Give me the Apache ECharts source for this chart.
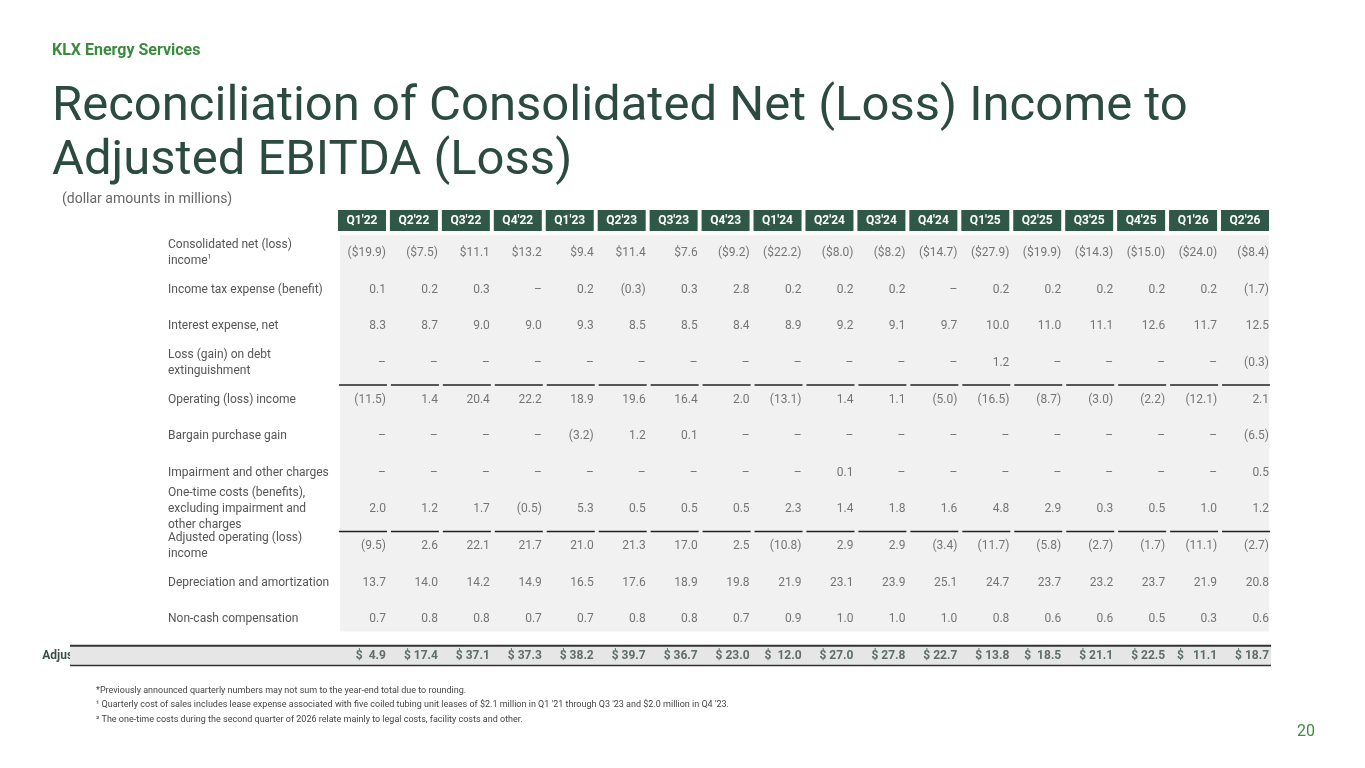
<!DOCTYPE html>
<html><head><meta charset="utf-8">
<script src="https://cdn.jsdelivr.net/npm/echarts@6/dist/echarts.min.js"></script>
<style>html,body{margin:0;padding:0;background:#fff}#c{width:1365px;height:768px}</style>
</head><body><div id="c"></div>
<script>
const quarters = ["Q1'22","Q2'22","Q3'22","Q4'22","Q1'23","Q2'23","Q3'23","Q4'23","Q1'24","Q2'24","Q3'24","Q4'24","Q1'25","Q2'25","Q3'25","Q4'25","Q1'26","Q2'26"];
const rowLabels = ["Consolidated net (loss) income{s|1}","Income tax expense (benefit)","Interest expense, net","Loss (gain) on debt extinguishment","Operating (loss) income","Bargain purchase gain","Impairment and other charges","One-time costs (benefits), excluding impairment and other charges","Adjusted operating (loss) income","Depreciation and amortization","Non-cash compensation","Adjusted EBITDA (loss)"];
const netIncome = ["($19.9)","($7.5)","$11.1","$13.2","$9.4","$11.4","$7.6","($9.2)","($22.2)","($8.0)","($8.2)","($14.7)","($27.9)","($19.9)","($14.3)","($15.0)","($24.0)","($8.4)"];
const incomeTax = ["0.1","0.2","0.3","–","0.2","(0.3)","0.3","2.8","0.2","0.2","0.2","–","0.2","0.2","0.2","0.2","0.2","(1.7)"];
const interest = ["8.3","8.7","9.0","9.0","9.3","8.5","8.5","8.4","8.9","9.2","9.1","9.7","10.0","11.0","11.1","12.6","11.7","12.5"];
const debtLoss = ["–","–","–","–","–","–","–","–","–","–","–","–","1.2","–","–","–","–","(0.3)"];
const operating = ["(11.5)","1.4","20.4","22.2","18.9","19.6","16.4","2.0","(13.1)","1.4","1.1","(5.0)","(16.5)","(8.7)","(3.0)","(2.2)","(12.1)","2.1"];
const bargain = ["–","–","–","–","(3.2)","1.2","0.1","–","–","–","–","–","–","–","–","–","–","(6.5)"];
const impairment = ["–","–","–","–","–","–","–","–","–","0.1","–","–","–","–","–","–","–","0.5"];
const oneTime = ["2.0","1.2","1.7","(0.5)","5.3","0.5","0.5","0.5","2.3","1.4","1.8","1.6","4.8","2.9","0.3","0.5","1.0","1.2"];
const adjOperating = ["(9.5)","2.6","22.1","21.7","21.0","21.3","17.0","2.5","(10.8)","2.9","2.9","(3.4)","(11.7)","(5.8)","(2.7)","(1.7)","(11.1)","(2.7)"];
const depreciation = ["13.7","14.0","14.2","14.9","16.5","17.6","18.9","19.8","21.9","23.1","23.9","25.1","24.7","23.7","23.2","23.7","21.9","20.8"];
const nonCash = ["0.7","0.8","0.8","0.7","0.7","0.8","0.8","0.7","0.9","1.0","1.0","1.0","0.8","0.6","0.6","0.5","0.3","0.6"];
const adjEbitda = ["$  4.9","$ 17.4","$ 37.1","$ 37.3","$ 38.2","$ 39.7","$ 36.7","$ 23.0","$  12.0","$ 27.0","$ 27.8","$ 22.7","$ 13.8","$  18.5","$ 21.1","$ 22.5","$   11.1","$ 18.7"];
const rows = [netIncome,incomeTax,interest,debtLoss,operating,bargain,impairment,oneTime,adjOperating,depreciation,nonCash,adjEbitda];
const underlineRows = [4,8];

const F = "Roboto";
const cells = [];
rows.forEach((r,ri)=>r.forEach((v,ci)=>cells.push({value:[ci,ri],label:{fontWeight:ri===11?'bold':'normal',color:ri===11?'#3b4f47':'#555'},txt:v})));
const lines = [];
underlineRows.forEach(ri=>quarters.forEach((q,ci)=>lines.push([ci,ri])));
const yData = rowLabels.map((l,i)=>i===11?{value:l,textStyle:{fontWeight:'bold',color:'#3b4f47'}}:l);

const chart = echarts.init(document.getElementById('c'));
chart.setOption({
  animation:false,
  textStyle:{fontFamily:F},
  grid:{left:253,right:94,top:235,bottom:94},
  graphic:[
    {type:'text',left:52,top:43,style:{text:'KLX Energy Services',font:'bold 16px '+F,fill:'#3b8b3e'}},
    {type:'text',left:52,top:81,style:{text:'Reconciliation of Consolidated Net (Loss) Income to\nAdjusted EBITDA (Loss)',font:'49px '+F,fill:'#2b4a40',lineHeight:54}},
    {type:'text',left:62,top:192,style:{text:'(dollar amounts in millions)',font:'14px '+F,fill:'#666'}},
    {type:'text',left:96,top:683,style:{text:'*Previously announced quarterly numbers may not sum to the year-end total due to rounding.\n¹ Quarterly cost of sales includes lease expense associated with five coiled tubing unit leases of $2.1 million in Q1 \'21 through Q3 \'23 and $2.0 million in Q4 \'23.\n² The one-time costs during the second quarter of 2026 relate mainly to legal costs, facility costs and other.',font:'9px '+F,fill:'#444',lineHeight:14.5}},
    {type:'text',right:50,top:724,style:{text:'20',font:'16px '+F,fill:'#3b8b3e'}}
  ],
  xAxis:{type:'category',data:quarters,position:'top',axisLine:{show:false},axisTick:{show:false},
    axisLabel:{margin:4,interval:0,color:'#fff',fontWeight:'bold',fontSize:12,backgroundColor:'#2f5848',width:48,align:'center',padding:[5,0,4,0]}},
  yAxis:{type:'category',inverse:true,data:yData,axisLine:{show:false},axisTick:{show:false},
    axisLabel:{interval:0,align:'left',margin:168,width:165,overflow:'break',color:'#555',fontSize:12,lineHeight:16,
      rich:{s:{fontSize:7,verticalAlign:'top',color:'#555',padding:[0,0,6,0]}}}},
  series:[
    {type:'custom',silent:true,z:1,data:[[0,0]],renderItem:(p,api)=>{
      const a=api.coord([0,0]), b=api.coord([17,10]), w=api.size([1,1]);
      const e0=api.coord([0,11]);
      return {type:'group',children:[
        {type:'rect',shape:{x:a[0]-w[0]/2+4,y:a[1]-w[1]/2,width:b[0]-a[0]+w[0]-6,height:b[1]-a[1]+w[1]-6},style:{fill:'#f1f1f1'}},
        {type:'rect',shape:{x:70,y:e0[1]-10,width:b[0]+w[0]/2-70,height:20},style:{fill:'#e6e6e6'}},
        {type:'rect',shape:{x:70,y:e0[1]-11,width:b[0]+w[0]/2-70,height:2},style:{fill:'#333'}},
        {type:'rect',shape:{x:70,y:e0[1]+9,width:b[0]+w[0]/2-70,height:1.5},style:{fill:'#333'}}
      ]};
    }},
    {type:'custom',silent:true,z:2,data:lines,renderItem:(p,api)=>{
      const c=api.coord([api.value(0),api.value(1)]), s=api.size([1,1]);
      return {type:'rect',shape:{x:c[0]-23,y:c[1]-s[1]/2+3,width:48,height:1.5},style:{fill:'#222'}};
    }},
    {type:'scatter',z:3,symbolSize:0,data:cells,
      label:{show:true,position:'inside',align:'right',offset:[24,0],fontSize:12,formatter:p=>p.data.txt}}
  ]
});
</script></body></html>
